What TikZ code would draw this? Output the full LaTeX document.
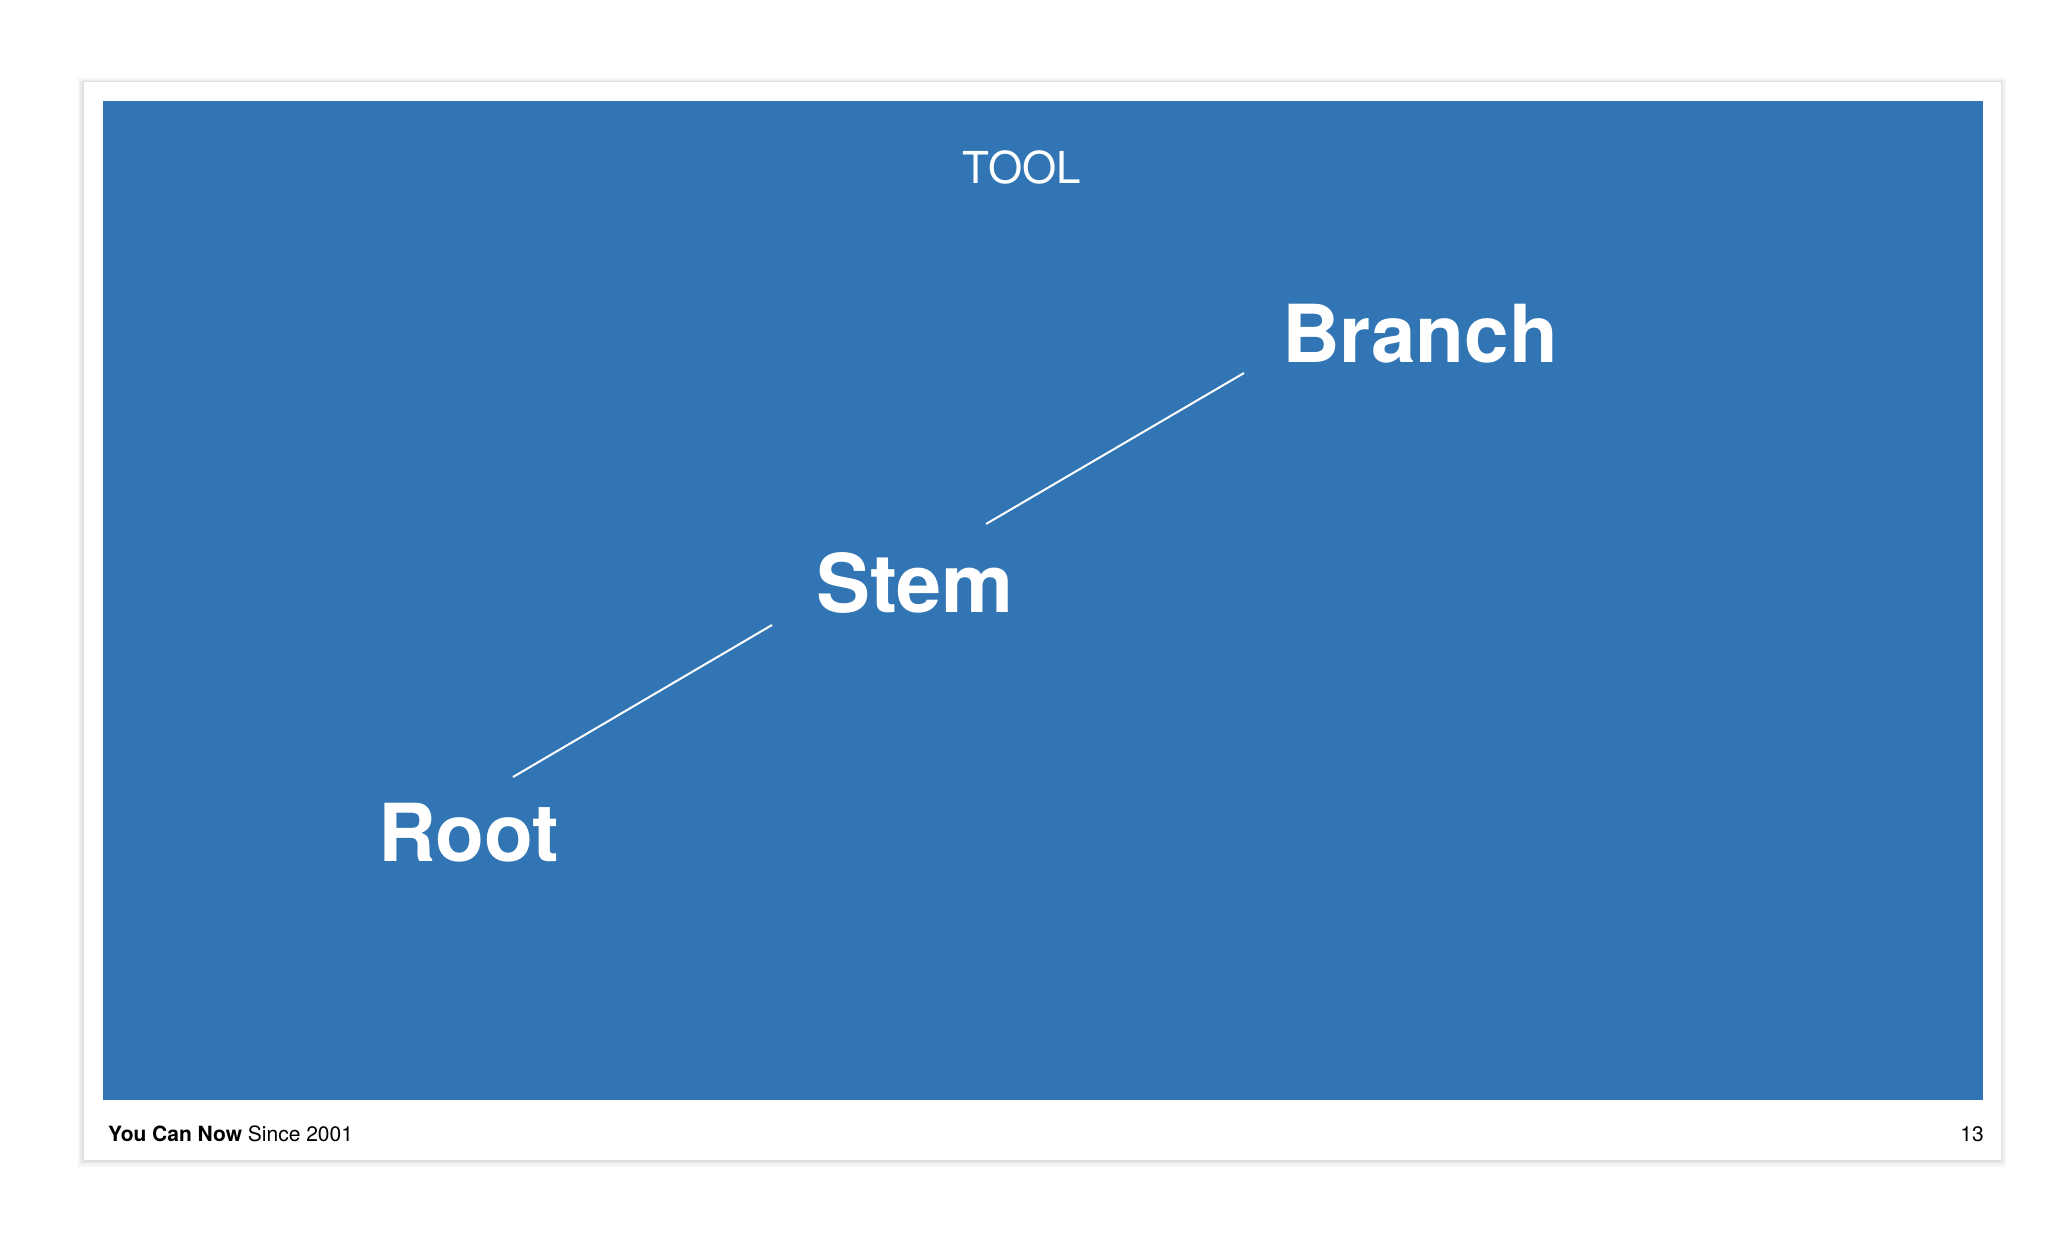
\documentclass[tikz,border=0pt]{standalone}
\usepackage{fontspec}
\setmainfont{TeX Gyre Heros}
\definecolor{slideblue}{HTML}{3275B4}
\tikzset{
  x=1pt, y=-1pt,
  bigword/.style={anchor=base west, inner sep=0pt, text=white, font=\fontsize{80}{80}\selectfont\bfseries},
  link/.style={draw=white, line width=2pt},
  foot/.style={anchor=base west, inner sep=0pt, text=black, font=\fontsize{21}{21}\selectfont}
}
\begin{document}
\begin{tikzpicture}
\useasboundingbox (0,0) rectangle (2070,1234);
\fill[white] (0,0) rectangle (2070,1234);
% card with soft shadow
\fill[black!4] (78,78) rectangle (2006,1167);
\fill[black!8] (80,80) rectangle (2004,1164);
\fill[black!12] (82,81) rectangle (2002,1162);
\fill[white] (84,82) rectangle (2001,1160);
% blue panel
\fill[slideblue] (103,101) rectangle (1983,1100);
% title
\node[anchor=base, inner sep=0pt, text=white, font=\fontsize{44}{44}\selectfont] (title) at (1022,183) {TOOL};
% words
\node[bigword] (branch) at (1282,362) {Branch};
\node[bigword, font=\fontsize{81}{81}\selectfont\bfseries] (stem) at (816,612) {Stem};
\node[bigword] (root) at (378,861) {Root};
% connector ends
\coordinate (stemTop) at (986,524);
\coordinate (branchFoot) at (1244,373);
\coordinate (rootTop) at (513,777);
\coordinate (stemFoot) at (772,625);
\draw[link] (stemTop) -- (branchFoot);
\draw[link] (rootTop) -- (stemFoot);
% footer
\node[foot] (brand) at (108,1141) {\textbf{You Can Now} Since 2001};
\node[foot, anchor=base east] (page) at (1984,1141) {13};
\end{tikzpicture}
\end{document}
